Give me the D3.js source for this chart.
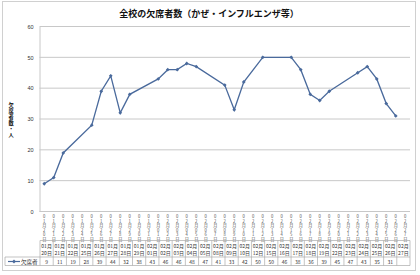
<!DOCTYPE html>
<html>
<head>
<meta charset="utf-8">
<script src="https://cdn.jsdelivr.net/npm/d3@7"></script>
<style>
  body { margin: 0; background: #fff; }
  svg { display: block; font-family: "Noto Sans CJK JP", "Noto Sans", sans-serif; }
</style>
</head>
<body>
<div id="chart"></div>
<script>
// data
const dates = ["01-20","01-21","01-22","01-25","01-26","01-27","01-28","01-29",
               "02-01","02-02","02-03","02-04","02-05","02-08","02-09","02-10",
               "02-12","02-15","02-16","02-17","02-18","02-19","02-22","02-23",
               "02-24","02-25","02-26","02-27"];
const absent = [9, 11, 19, 28, 39, 44, 32, 38, 43, 46, 46, 48, 47, 41, 33, 42,
                50, 50, 46, 38, 36, 39, 45, 47, 43, 35, 31, null];
const yTicks = [0, 10, 20, 30, 40, 50, 60];
const seriesName = "欠席者";
const title = "全校の欠席者数（かぜ・インフルエンザ等）";
const yTitle = "欠席者数・人";

const W = 420, H = 275;
const lineColor = "#4a6a9c";
const gridColor = "#c8c8c8";
const textColor = "#333";

const parse = s => new Date(2010, +s.slice(0, 2) - 1, +s.slice(3));
const pts = dates.map((d, i) => ({ date: parse(d), v: absent[i], label: d }));

const first = pts[0].date, last = pts[pts.length - 1].date;
const halfDay = 12 * 3600 * 1000;
const x = d3.scaleTime()
    .domain([new Date(+first - halfDay), new Date(+last + halfDay)])
    .range([39.5, 410]);
const y = d3.scaleLinear().domain([0, 60]).range([211.5, 26.5]);

const svg = d3.select("#chart").append("svg")
    .attr("width", W).attr("height", H);

// stack characters top to bottom (vertical text, upright glyphs)
function stackText(sel, str, step) {
    sel.selectAll("tspan")
        .data(Array.from(str))
        .join("tspan")
        .attr("x", sel.attr("x"))
        .attr("dy", (c, i) => i === 0 ? 0 : step)
        .text(c => c);
}

// outer frame
svg.append("rect")
    .attr("x", 2.5).attr("y", 1.5).attr("width", 413).attr("height", 269)
    .attr("fill", "#fff").attr("stroke", "#d0d0d0");

// title
svg.append("text")
    .attr("x", 209).attr("y", 17)
    .attr("text-anchor", "middle")
    .attr("font-size", 9).attr("font-weight", "bold")
    .attr("fill", "#111")
    .text(title);

// y title, vertical
const yt = svg.append("text")
    .attr("x", 11).attr("y", 107)
    .attr("text-anchor", "middle")
    .attr("font-size", 5.2).attr("font-weight", "bold")
    .attr("fill", "#111");
stackText(yt, yTitle, 6);

// gridlines
svg.append("g").selectAll("line")
    .data(yTicks)
    .join("line")
    .attr("x1", x.range()[0]).attr("x2", x.range()[1])
    .attr("y1", d => y(d)).attr("y2", d => y(d))
    .attr("stroke", gridColor).attr("stroke-width", 1);

// y axis
const yAxis = svg.append("g")
    .attr("transform", `translate(${x.range()[0]},0)`)
    .call(d3.axisLeft(y).tickValues(yTicks).tickSize(0).tickPadding(6));
yAxis.select(".domain").attr("stroke", gridColor);
yAxis.selectAll("text").attr("font-size", 5.5).attr("fill", textColor)
    .attr("font-family", "Liberation Sans, Arial, sans-serif");

// vertical day labels, one per day
const allDays = d3.timeDay.range(first, d3.timeDay.offset(last, 1));
const fmt = d3.timeFormat("%m月%d日");
svg.append("g").selectAll("text")
    .data(allDays)
    .join("text")
    .attr("x", d => x(d)).attr("y", 218)
    .attr("text-anchor", "middle")
    .attr("font-size", 4.2)
    .attr("fill", "#555")
    .each(function (d) { stackText(d3.select(this), fmt(d), 4.5); });

// line + markers
const line = d3.line()
    .defined(d => d.v != null)
    .x(d => x(d.date)).y(d => y(d.v));
svg.append("path")
    .datum(pts)
    .attr("d", line)
    .attr("fill", "none")
    .attr("stroke", lineColor)
    .attr("stroke-width", 1.3);

const diamond = d3.symbol().type(d3.symbolDiamond2).size(9);
svg.append("g").selectAll("path")
    .data(pts.filter(d => d.v != null))
    .join("path")
    .attr("transform", d => `translate(${x(d.date)},${y(d.v)})`)
    .attr("d", diamond)
    .attr("fill", lineColor);

// data table
const tx = d3.scaleBand().domain(dates).range([40, 410]);
const tTop = 240.5, tMid = 257, tBot = 265.5;
const tbl = svg.append("g");
tbl.append("line").attr("x1", 40).attr("x2", 410).attr("y1", tTop).attr("y2", tTop)
    .attr("stroke", "#aaa").attr("stroke-width", 0.7);
tbl.append("line").attr("x1", 5).attr("x2", 410).attr("y1", tMid).attr("y2", tMid)
    .attr("stroke", "#aaa").attr("stroke-width", 0.7);
tbl.append("line").attr("x1", 5).attr("x2", 410).attr("y1", tBot).attr("y2", tBot)
    .attr("stroke", "#aaa").attr("stroke-width", 0.7);
tbl.append("line").attr("x1", 5).attr("x2", 5).attr("y1", tMid).attr("y2", tBot)
    .attr("stroke", "#aaa").attr("stroke-width", 0.7);
tbl.selectAll(".vl")
    .data(dates.concat(["end"]))
    .join("line")
    .attr("class", "vl")
    .attr("x1", (d, i) => i < dates.length ? tx(d) : tx.range()[1])
    .attr("x2", (d, i) => i < dates.length ? tx(d) : tx.range()[1])
    .attr("y1", tTop).attr("y2", tBot)
    .attr("stroke", "#aaa").attr("stroke-width", 0.7);

const cell = tbl.selectAll(".cell")
    .data(pts)
    .join("g")
    .attr("class", "cell")
    .attr("transform", d => `translate(${tx(d.label) + tx.bandwidth() / 2},0)`);
cell.append("text")
    .attr("y", 247.5).attr("text-anchor", "middle")
    .attr("font-size", 5).attr("fill", textColor)
    .text(d => d.label.slice(0, 2) + "月");
cell.append("text")
    .attr("y", 254.5).attr("text-anchor", "middle")
    .attr("font-size", 5).attr("fill", textColor)
    .text(d => d.label.slice(3) + "日");
cell.append("text")
    .attr("y", 263.5).attr("text-anchor", "middle")
    .attr("font-size", 5).attr("fill", textColor)
    .text(d => d.v == null ? "" : d.v);

// legend key in table
tbl.append("line").attr("x1", 8).attr("x2", 20).attr("y1", 261.5).attr("y2", 261.5)
    .attr("stroke", lineColor).attr("stroke-width", 1.2);
tbl.append("path").attr("transform", "translate(14,261.5)").attr("d", diamond)
    .attr("fill", lineColor);
tbl.append("text").attr("x", 21).attr("y", 263.5)
    .attr("font-size", 5.5).attr("fill", textColor)
    .text(seriesName);
</script>
</body>
</html>
